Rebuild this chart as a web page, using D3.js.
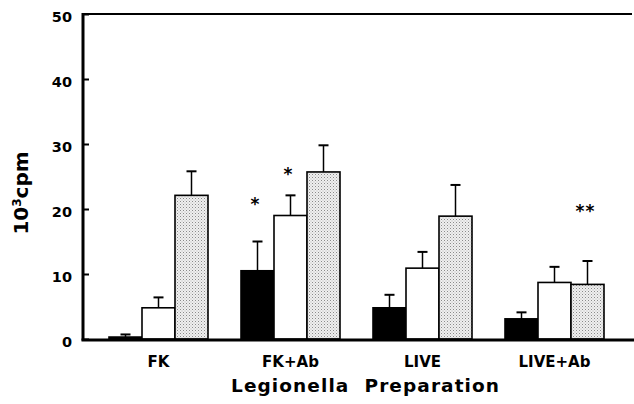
<!DOCTYPE html>
<html><head><meta charset="utf-8">
<script src="https://cdn.jsdelivr.net/npm/d3@7"></script>
<style>body{margin:0;background:#fff}svg{display:block}</style>
</head><body>
<svg id="c" width="634" height="404"></svg>
<script>
const categories = ["FK", "FK+Ab", "LIVE", "LIVE+Ab"];
const seriesNames = ["black", "white", "stippled"];
const means = [
  [0.3, 4.8, 22.1],
  [10.5, 19.0, 25.7],
  [4.8, 10.9, 18.9],
  [3.1, 8.7, 8.4]
];
const errors = [
  [0.4, 1.6, 3.7],
  [4.5, 3.1, 4.1],
  [2.0, 2.5, 4.8],
  [1.0, 2.4, 3.6]
];
// significance marks: [category, series, label, y-value of mark centre]
const marks = [
  ["FK+Ab", "black", "*", 21.2],
  ["FK+Ab", "white", "*", 25.8],
  ["LIVE+Ab", "stippled", "**", 20.2]
];
const yTicks = [0, 10, 20, 30, 40, 50];

const svg = d3.select("#c");
const defs = svg.append("defs");
const pat = defs.append("pattern").attr("id", "stip").attr("patternUnits", "userSpaceOnUse")
  .attr("width", 3).attr("height", 3);
pat.append("rect").attr("width", 3).attr("height", 3).attr("fill", "#efefef");
pat.append("rect").attr("x", 0).attr("y", 0).attr("width", 1).attr("height", 1).attr("fill", "#8a8a8a");
pat.append("rect").attr("x", 1.5).attr("y", 1.5).attr("width", 1).attr("height", 1).attr("fill", "#b4b4b4");

const fills = ["#000", "#fff", "url(#stip)"];
const axisX = 83, rightX = 634, topY = 14, bottomY = 339;
const FONT = "DejaVu Sans, Verdana, sans-serif";

const y = d3.scaleLinear().domain([0, 50]).range([bottomY, topY]);
const x0 = d3.scaleBand().domain(categories).range([76, 637]).paddingInner(0.25).paddingOuter(0.25);
const x1 = d3.scaleBand().domain(seriesNames).range([0, x0.bandwidth()]);

const g = svg.append("g");
categories.forEach((c, i) => {
  seriesNames.forEach((s, j) => {
    const bx = x0(c) + x1(s);
    const v = means[i][j], e = errors[i][j];
    const cx = bx + x1.bandwidth() / 2;
    g.append("line").attr("x1", cx).attr("x2", cx).attr("y1", y(v)).attr("y2", y(v + e))
      .attr("stroke", "#000").attr("stroke-width", 1.5);
    g.append("line").attr("x1", cx - 5).attr("x2", cx + 5).attr("y1", y(v + e)).attr("y2", y(v + e))
      .attr("stroke", "#000").attr("stroke-width", 2);
    g.append("rect").attr("x", bx).attr("y", y(v)).attr("width", x1.bandwidth()).attr("height", y(0) - y(v))
      .attr("fill", fills[j]).attr("stroke", "#000").attr("stroke-width", 1.6);
  });
});

marks.forEach(([c, s, label, v]) => {
  const cx = x0(c) + x1(s) + x1.bandwidth() / 2 - 2;
  g.append("text").attr("x", cx).attr("y", y(v) + 9)
    .attr("text-anchor", "middle").attr("font-family", FONT)
    .attr("font-weight", "bold").attr("font-size", 17).attr("letter-spacing", "1").text(label);
});

const yAxis = d3.axisLeft(y).tickValues(yTicks).tickSize(-6).tickPadding(11);
const ya = svg.append("g").attr("transform", `translate(${axisX},0)`).call(yAxis);
ya.select(".domain").remove();
ya.selectAll(".tick line").attr("stroke", "#000").attr("stroke-width", 2);
ya.selectAll(".tick text").attr("font-family", FONT)
  .attr("font-weight", "bold").attr("font-size", 14.5).attr("fill", "#000").attr("dy", "0.55em");

svg.append("line").attr("x1", axisX).attr("x2", axisX).attr("y1", topY - 1).attr("y2", bottomY + 1.5)
  .attr("stroke", "#000").attr("stroke-width", 3);
svg.append("line").attr("x1", axisX - 1).attr("x2", 632).attr("y1", topY).attr("y2", topY)
  .attr("stroke", "#000").attr("stroke-width", 2);
svg.append("line").attr("x1", axisX - 1.5).attr("x2", rightX).attr("y1", bottomY + 1).attr("y2", bottomY + 1)
  .attr("stroke", "#000").attr("stroke-width", 3);

const xAxis = d3.axisBottom(x0).tickSize(0).tickPadding(0);
const xa = svg.append("g").attr("transform", `translate(0,${bottomY})`).call(xAxis);
xa.select(".domain").remove();
xa.selectAll(".tick text").attr("font-family", FONT)
  .attr("font-weight", "bold").attr("font-size", 15).attr("fill", "#000").attr("y", 28).attr("dy", 0);

svg.append("text").attr("x", 231).attr("y", 392)
  .attr("font-family", FONT).attr("font-size", 18.5).attr("font-weight", "bold")
  .attr("textLength", 268).attr("lengthAdjust", "spacing")
  .style("white-space", "pre").text("Legionella  Preparation");
const yl = svg.append("text").attr("transform", "translate(28,193) rotate(-90)").attr("text-anchor", "middle")
  .attr("font-family", FONT).attr("font-weight", "bold").attr("font-size", 20);
yl.append("tspan").text("10");
yl.append("tspan").attr("baseline-shift", "super").attr("font-size", 12).text("3");
yl.append("tspan").text("cpm");
</script>
</body></html>
